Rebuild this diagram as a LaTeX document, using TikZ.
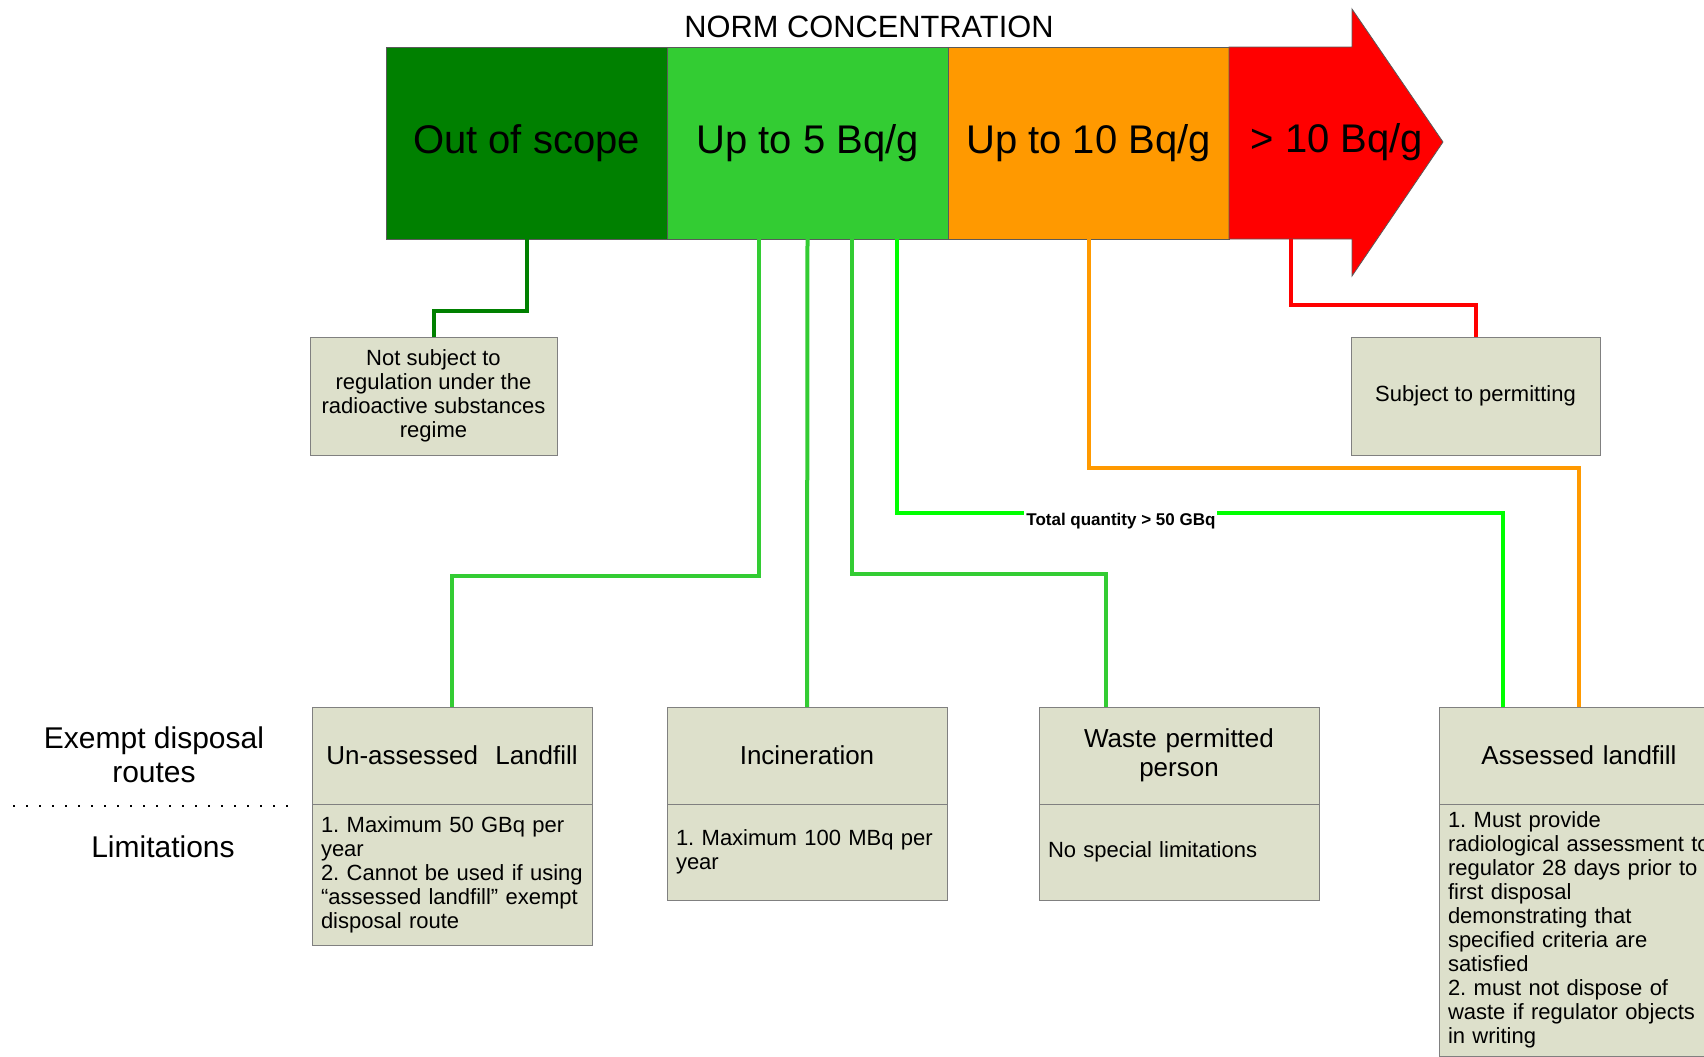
\documentclass[tikz,border=0pt]{standalone}
\usepackage{fontspec}
\setmainfont{Liberation Sans}
\usepackage{tikz}
\definecolor{oosgreen}{RGB}{0, 128, 0}
\definecolor{lowgreen}{RGB}{51, 204, 51}
\definecolor{limegreen}{RGB}{0, 255, 0}
\definecolor{midorange}{RGB}{255, 153, 0}
\definecolor{highred}{RGB}{255, 0, 0}
\definecolor{boxfill}{RGB}{221, 224, 203}
\definecolor{boxline}{RGB}{128, 128, 128}
\definecolor{barline}{RGB}{90, 90, 90}
\usetikzlibrary{positioning,calc}
\frenchspacing
\hyphenpenalty=10000

\begin{document}
\begin{tikzpicture}[
    x=0.5pt, y=-0.5pt,
    band/.style={
        rectangle,
        minimum width=140.5pt,
        minimum height=96pt,
        inner sep=0pt,
        outer sep=0pt,
        draw=barline,
        font=\fontsize{20}{24}\selectfont
    },
    infobox/.style={
        rectangle,
        draw=boxline,
        fill=boxfill,
        align=center,
        inner sep=0pt,
        outer sep=0pt,
        font=\fontsize{11}{12}\selectfont
    },
    routehead/.style={
        rectangle,
        draw=boxline,
        fill=boxfill,
        text width=131pt,
        inner xsep=4.5pt,
        outer sep=0pt,
        minimum height=48.5pt,
        align=center,
        font=\fontsize{13}{14.5}\selectfont
    },
    routelim/.style={
        rectangle,
        draw=boxline,
        fill=boxfill,
        text width=131pt,
        inner xsep=4.5pt,
        outer sep=0pt,
        align=left,
        font=\fontsize{11}{12}\selectfont
    },
    link/.style={line width=2pt},
    qtylabel/.style={fill=white, inner sep=1pt, font=\bfseries\fontsize{8.5}{10}\selectfont},
    sidelabel/.style={align=center, font=\fontsize{15}{17}\selectfont}
]
    \useasboundingbox (0,0) rectangle (1704,1056);
    \clip (0,0) rectangle (1704,1056);

    % Concentration bar
    \node[font=\fontsize{15.4}{18}\selectfont] (title) at (869,27) {NORM CONCENTRATION};
    \node[band, fill=oosgreen, anchor=north west] (seg1) at (386,47) {Out of scope};
    \node[band, fill=lowgreen, right=0pt of seg1] (seg2) {Up to 5 Bq/g};
    \node[band, fill=midorange, right=0pt of seg2] (seg3) {Up to 10 Bq/g};
    \node[band, draw=none, minimum width=61.5pt, right=0pt of seg3] (seg4) {};
    \draw[fill=highred, draw=barline] (seg4.north west) -- (seg4.north east) -- ++(0,-38)
        -- (1443,142) -- (1352,276) -- (seg4.south east) -- (seg4.south west) -- cycle;
    \node[font=\fontsize{20}{24}\selectfont] (over10) at (1337,142) {> 10 Bq/g};

    % Regulation boxes
    \node[infobox, anchor=north west, minimum width=123.5pt, minimum height=59pt] (notsub) at (310,337) {Not subject to\\regulation under the\\radioactive substances\\regime};
    \node[infobox, anchor=north west, minimum width=124.5pt, minimum height=59pt] (permit) at (1351,337) {Subject to permitting};

    % Exempt disposal routes
    \node[routehead, anchor=north west] (unass) at (312,707) {Un-assessed~ Landfill};
    \node[routelim, below=0pt of unass, minimum height=70.5pt] (unasslim) {1. Maximum 50 GBq per\\year\\2. Cannot be used if using\\“assessed landfill” exempt\\disposal route};
    \node[routehead, anchor=north west] (incin) at (667,707) {Incineration};
    \node[routelim, below=0pt of incin, minimum height=48pt] (incinlim) {1. Maximum 100 MBq per\\year};
    \node[routehead, anchor=north west] (waste) at (1039,707) {Waste permitted\\person};
    \node[routelim, below=0pt of waste, minimum height=48pt] (wastelim) {No special limitations};
    \node[routehead, anchor=north west] (assessed) at (1439,707) {Assessed landfill};
    \node[routelim, below=0pt of assessed, minimum height=126pt] (assessedlim) {1. Must provide\\radiological assessment to\\regulator 28 days prior to\\first disposal\\demonstrating that\\specified criteria are\\satisfied\\2. must not dispose of\\waste if regulator objects\\in writing};

    % Row labels
    \node[sidelabel] (routes) at (154,755) {Exempt disposal\\routes};
    \node[sidelabel] (limits) at (163,847) {Limitations};
    \draw[line width=0.8pt, dash pattern=on 0.8pt off 5.7pt] (13,806) -- (293,806);

    % Connectors
    \draw[link, oosgreen] (seg1.south) -- ++(0,72) -| (notsub.north);
    \draw[link, lowgreen] ($(seg2.south)+(-49,0)$) -- ++(0,337) -| (unass.north);
    \draw[link, lowgreen] (seg2.south) -- (incin.north);
    \draw[link, lowgreen] ($(seg2.south)+(44,0)$) -- ++(0,335) -| ($(waste.north)+(-73,0)$);
    \draw[link, limegreen] ($(seg2.south)+(89,0)$) -- ++(0,274) -| ($(assessed.north)+(-76,0)$)
        node[qtylabel, text=black, pos=0.185, yshift=-4pt] {Total quantity > 50 GBq};
    \draw[link, midorange] (seg3.south) -- ++(0,229) -| (assessed.north);
    \draw[link, highred] (seg4.south) -- ++(0,66) -| (permit.north);
\end{tikzpicture}
\end{document}
